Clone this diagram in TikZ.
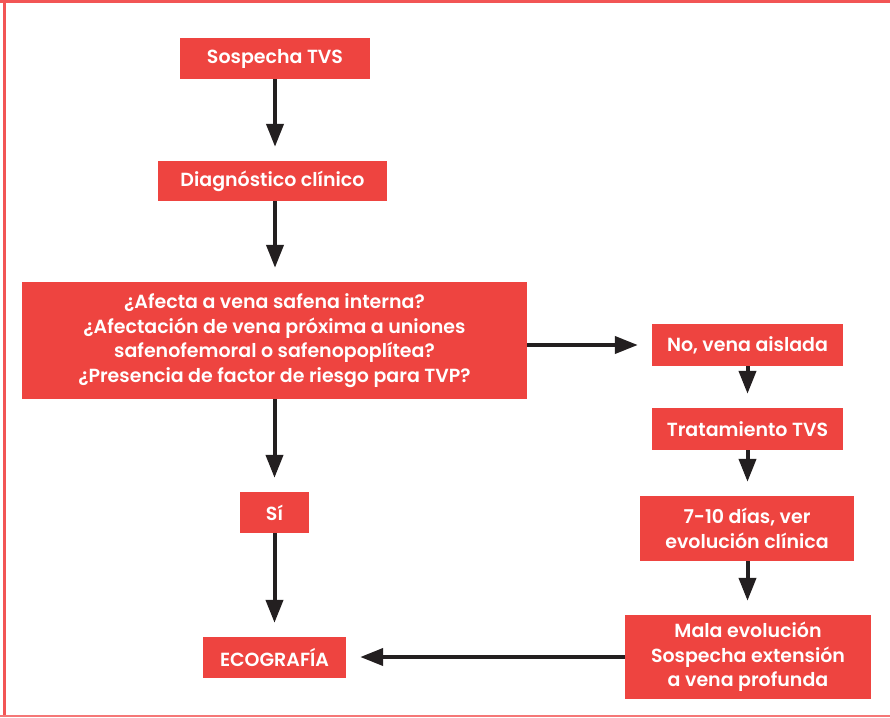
\documentclass[tikz,border=0pt]{standalone}
\usepackage{fontspec}
\setmainfont{Poppins}[BoldFont={Poppins SemiBold}]
\usetikzlibrary{arrows.meta}
\definecolor{boxred}{HTML}{EE4440}
\definecolor{framered}{HTML}{F25555}
\definecolor{arrowblack}{HTML}{231F20}
\begin{document}
\begin{tikzpicture}[x=1pt, y=-1pt,
  box/.style={shape=rectangle, fill=boxred, text=white, inner sep=0pt, align=center,
    font=\bfseries\fontsize{19}{24.5}\selectfont},
  flow/.style={draw=arrowblack, line width=4pt, shorten >=14pt,
    -{Triangle[length=23pt, width=17pt]}}]
\useasboundingbox (0,0) rectangle (890,717);
% frame
\draw[framered, line width=3pt] (0,1.5) -- (890,1.5);
\draw[framered, line width=3pt] (4.5,0) -- (4.5,717);
\draw[framered!80, line width=1.5pt] (0,716) -- (890,716);
% left column
\node[box, minimum width=190pt, minimum height=41pt] (sospecha) at (275,58.5) {Sospecha TVS};
\node[box, minimum width=229pt, minimum height=40pt] (diagnostico) at (272.5,181) {Diagnóstico clínico};
\node[box, minimum width=505pt, minimum height=117pt] (preguntas) at (274.5,340.5)
  {¿Afecta a vena safena interna?\\¿Afectación de vena próxima a uniones\\safenofemoral o safenopoplítea?\\¿Presencia de factor de riesgo para TVP?};
\node[box, minimum width=69pt, minimum height=41pt] (si) at (274.5,512.5) {Sí};
\node[box, minimum width=143pt, minimum height=41pt] (ecografia) at (274.5,657.5) {ECOGRAFÍA};
% right column
\node[box, minimum width=191pt, minimum height=42pt] (aislada) at (747.5,345) {No, vena aislada};
\node[box, minimum width=191pt, minimum height=42pt] (tratamiento) at (747.5,429) {Tratamiento TVS};
\node[box, minimum width=214pt, minimum height=65pt] (dias) at (747,528.5) {7-10 días, ver\\evolución clínica};
\node[box, minimum width=246pt, minimum height=84pt] (mala) at (748,657) {Mala evolución\\Sospecha extensión\\a vena profunda};
% connectors
\draw[flow] (sospecha.south) -- (sospecha.south |- diagnostico.north);
\draw[flow] (sospecha.south |- diagnostico.south) -- (sospecha.south |- preguntas.north);
\draw[flow] (preguntas.south) -- (si.north);
\draw[flow] (si.south) -- (ecografia.north);
\draw[flow] (preguntas.east |- aislada.west) -- (aislada.west);
\draw[flow] (aislada.south) -- (aislada.south |- tratamiento.north);
\draw[flow] (tratamiento.south) -- (tratamiento.south |- dias.north);
\draw[flow] (tratamiento.south |- dias.south) -- (tratamiento.south |- mala.north);
\draw[flow] (mala.west) -- (mala.west -| ecografia.east);
\end{tikzpicture}
\end{document}
